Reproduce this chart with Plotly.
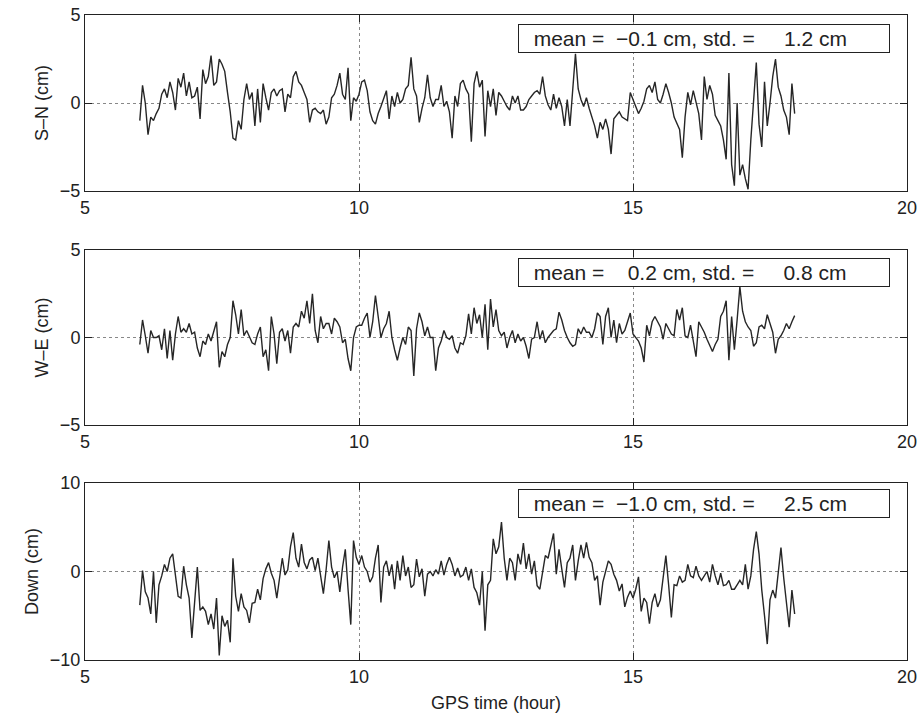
import numpy as np
import plotly.graph_objects as go

# GPS time (hour): sampled every 0.05 h from 6.00 to 17.95
time_hour = np.round(6.0 + 0.05 * np.arange(240), 2)

sn_cm = [
    -1.0, 1.0, 0.0, -1.8, -0.8, -1.0, -0.6, -0.3, 0.5, 0.8, 0.3, 1.2, 0.6, -0.4, 1.4, 0.9, 1.7, 0.4, 1.2, 0.3,
    0.4, 0.9, -0.9, 1.9, 1.1, 1.5, 2.7, 1.0, 1.2, 2.5, 2.2, 1.8, 0.6, -0.5, -2.0, -2.1, -1.0, -1.5, 0.2, 1.1,
    0.2, 0.6, -1.3, 0.8, -1.1, 1.1, 0.3, -0.4, 0.6, 0.8, 0.4, 0.7, 0.8, -0.5, 0.5, 0.3, 1.5, 1.8, 1.2, 1.0,
    0.6, 0.2, -1.1, -0.4, -0.3, -0.5, -0.6, -0.4, -1.2, -0.8, 0.3, 0.5, 1.0, 1.7, 0.5, 0.2, 2.0, -1.0, 0.3, 0.1,
    0.5, 1.2, 1.3, 0.7, -0.5, -1.0, -1.2, -0.6, -0.2, 0.3, 0.7, -0.9, 0.4, -0.2, 0.6, 0.0, 0.2, 0.8, 1.0, 2.6,
    0.8, 0.4, -1.1, -0.3, 0.3, 1.6, 0.3, -0.2, 0.2, 0.2, 1.0, -0.2, 0.1, -0.5, -2.0, 0.4, -0.2, 1.1, 1.3, 0.8,
    0.5, -2.2, 1.1, 1.8, 0.9, 1.3, -1.9, 0.7, -0.2, 0.8, -0.7, 0.6, 0.4, 0.1, -0.2, -0.4, 0.4, 0.0, 0.4, -0.4,
    -0.4, -0.2, 0.2, 0.4, 0.6, 0.7, 0.5, 1.5, 0.4, -0.1, -0.4, 0.5, -0.3, 0.3, -0.2, -1.3, 0.2, -1.3, 0.8, 2.8,
    0.8, 0.2, -0.2, 0.3, -0.3, -0.8, -1.3, -2.0, -1.1, -1.5, -0.9, -1.5, -2.9, -0.9, -0.7, -0.5, -0.8, -0.9, -1.0, 0.6,
    0.2, -0.2, -0.6, -0.3, 0.1, 0.8, 1.0, 0.6, 1.2, 0.2, 0.0, 0.5, 1.1, 0.6, 0.0, -0.8, -1.2, -1.5, -3.1, -0.8,
    0.6, -0.1, 0.7, 0.0, -0.6, -2.1, 1.5, 0.2, 1.0, 0.5, -0.7, -1.0, -1.3, -2.1, -3.2, 1.7, -3.5, -4.7, 0.0, -4.1,
    -3.5, -4.3, -4.9, -2.1, 0.2, 2.3, -1.2, -2.5, 1.2, -1.3, 0.0, 1.5, 2.5, 0.9, 0.4, -0.4, -0.8, -1.8, 1.1, -0.6,
]

we_cm = [
    -0.4, 1.0, 0.1, -0.9, 0.4, 0.0, 0.0, 0.1, -0.7, 0.5, -1.2, 0.4, -1.3, 0.2, 1.2, 0.3, 0.5, 0.3, 0.8, 0.2,
    0.3, -0.6, -1.1, -0.2, -0.4, 0.2, -0.2, 0.4, 0.9, -1.7, -0.8, -1.1, -0.4, 0.0, 2.1, 1.3, 0.2, 1.6, 0.1, 0.4,
    0.0, -0.3, -0.4, 0.2, 0.6, -1.1, -0.7, -1.9, 1.2, 0.2, -1.5, 0.3, 0.5, -0.2, 0.4, -0.9, 0.6, 0.8, 0.6, 1.5,
    1.1, 2.1, 0.8, 2.5, 0.4, -0.3, 1.2, 0.5, 0.8, 0.8, 0.2, 1.1, 0.9, 0.6, -0.3, -0.1, -1.2, -1.9, 0.0, 0.6,
    0.7, 0.7, 1.1, 1.4, 0.0, 0.9, 2.4, 1.2, 0.0, 0.5, 0.8, 1.5, 0.0, -0.7, -1.3, -0.6, 0.0, -0.4, 0.6, 0.4,
    -2.2, 0.5, 1.4, 0.9, 0.1, 0.6, 0.0, 0.0, -1.9, -0.6, -0.2, 0.4, 0.0, -0.1, 0.1, -0.6, -0.9, -0.3, -0.4, 0.1,
    1.35, 0.2, 1.7, 0.8, 1.3, 0.0, 1.9, -0.7, 2.2, 0.6, 1.6, 0.4, 0.1, 0.3, -0.6, 0.0, 0.4, -0.3, 0.2, -0.2,
    0.0, -0.5, -1.2, -0.1, 0.0, 0.9, -0.1, 0.4, -0.3, 0.0, 0.2, 0.4, 0.5, 1.45, 1.0, 0.4, 0.0, -0.3, -0.5, -0.4,
    0.5, 0.2, 0.6, 0.3, 0.3, 0.0, 0.5, 1.4, 1.2, -0.4, 1.2, 1.7, 0.0, 1.0, -0.3, 0.8, 0.2, 0.4, 0.9, 1.4,
    0.2, 0.0, -0.2, -0.6, -1.4, 0.7, 0.1, 0.9, 1.2, 0.9, 0.6, -0.1, 0.8, 0.5, 0.2, 0.1, 1.6, 1.0, 1.7, 0.1,
    0.0, 0.7, -0.3, -1.1, 0.9, 0.6, 0.3, -0.1, -0.5, -0.8, -0.4, -0.1, 1.2, 1.5, 2.1, -1.3, 1.2, -0.7, 1.0, 2.9,
    1.5, 0.9, 0.6, 0.4, -0.5, -0.3, 0.6, 0.7, 0.5, 1.3, 0.8, 0.3, -0.9, -0.1, 0.1, 0.4, 0.8, 0.5, 0.9, 1.25,
]

down_cm = [
    -3.8, 0.1, -2.3, -3.0, -4.8, 0.0, -5.8, -1.5, -0.5, 0.8, 0.0, 1.5, 2.0, -0.6, -2.8, -3.0, 0.6, -1.5, -3.0, -7.5,
    -3.0, 0.5, -4.4, -4.0, -4.5, -6.0, -4.8, -6.5, -3.0, -9.5, -5.0, -6.2, -5.5, -8.0, 1.5, -2.8, -4.5, -2.5, -4.0, -4.4,
    -5.8, -3.6, -3.5, -2.0, -3.2, -0.8, 0.3, 1.0, -0.2, -1.0, -3.0, -0.4, 1.5, -0.4, 0.2, 2.8, 4.4, 1.5, 0.5, 3.1,
    1.0, 0.3, 1.3, 1.6, 0.1, 1.5, -0.8, -2.5, 0.2, 3.5, 0.5, -0.7, 0.0, -2.3, 0.5, 2.5, -2.0, -6.0, 3.5, 1.6,
    0.8, 1.8, 0.5, 0.0, -1.2, -0.6, 1.5, 3.0, -3.5, 0.5, 1.2, -0.5, 0.8, -2.0, 1.2, -1.0, 1.8, -0.5, 0.5, -1.8,
    -1.5, 1.4, -0.6, 0.3, -2.8, -0.3, 0.0, -0.5, 0.2, -0.3, 1.2, -0.4, 0.8, 1.6, 0.8, -0.5, 0.4, -0.6, -0.4, 0.5,
    -1.0, 0.3, -1.8, -2.4, -3.8, 0.0, -6.7, -1.5, -1.0, 3.7, 2.0, 2.8, 5.6, 1.5, -1.0, 1.5, 1.0, -1.0, 2.0, 0.8,
    3.2, 0.3, 2.0, -0.3, 1.2, -1.6, -2.0, 0.0, 1.8, 1.5, 3.0, 4.3, -0.3, 2.5, 0.3, -1.8, 1.0, 1.5, 3.0, -1.0,
    1.2, 3.0, 1.5, 3.3, 1.6, 1.0, -1.0, -0.5, -3.8, -1.2, 0.0, 1.2, 0.8, -0.3, -1.0, -2.2, -1.4, -4.0, -2.9, -2.2,
    -3.0, -2.0, -0.6, -4.5, -3.0, -3.5, -5.9, -3.5, -2.5, -4.0, -3.2, -0.5, 1.8, -1.5, -5.2, -1.5, -1.6, -0.5, -1.2, -1.0,
    0.8, -0.5, -0.7, 0.6, -0.5, -1.0, -0.5, 0.0, -1.2, 0.8, -0.5, -1.5, -0.2, -1.6, -1.5, -1.0, -2.0, -2.0, -1.5, -1.0,
    -1.5, 0.8, -2.0, -0.5, 2.5, 4.5, 2.0, -2.1, -5.0, -8.2, -3.2, -2.1, -3.0, 0.1, 2.7, -0.7, -3.5, -6.3, -2.1, -4.8,
]

series = [sn_cm, we_cm, down_cm]
y_titles = ["S\u2013N (cm)", "W\u2013E (cm)", "Down (cm)"]
y_ranges = [[-5, 5], [-5, 5], [-10, 10]]
y_ticks = [[-5, 0, 5], [-5, 0, 5], [-10, 0, 10]]
x_ticks = [5, 10, 15, 20]
means = ["\u22120.1", "0.2", "\u22121.0"]
stds = ["1.2", "0.8", "2.5"]

NB = "\u00a0"
FONT = "Liberation Sans, Arial, Helvetica, sans-serif"
domains = [[0.7271, 1.0], [0.3643, 0.6357], [0.0, 0.2744]]
box_y = [0.9636, 0.6008, 0.2419]

fig = go.Figure()
layout = dict(
    width=920, height=719,
    margin=dict(l=85, r=13, t=15, b=59, autoexpand=False),
    paper_bgcolor="white", plot_bgcolor="white",
    showlegend=False,
    font=dict(family=FONT, size=18, color="#222"),
    annotations=[],
)

for i, vals in enumerate(series):
    n = "" if i == 0 else str(i + 1)
    fig.add_trace(go.Scatter(
        x=time_hour, y=vals, mode="lines",
        line=dict(color="#262626", width=1.4),
        xaxis="x" + n, yaxis="y" + n, hoverinfo="skip",
    ))
    common = dict(
        showline=True, linecolor="#222", linewidth=1, mirror="ticks",
        ticks="inside", ticklen=7, tickcolor="#222", tickwidth=1,
        showgrid=True, gridcolor="#888", griddash="dot", gridwidth=1,
        zeroline=False, tickfont=dict(size=18, color="#222"), automargin=False,
    )
    layout["xaxis" + n] = dict(
        common, range=[5, 20], tickvals=x_ticks, anchor="y" + n,
        domain=[0, 1],
        title=dict(text="GPS time (hour)" if i == 2 else "", font=dict(size=18), standoff=10),
    )
    layout["yaxis" + n] = dict(
        common, range=y_ranges[i], tickvals=y_ticks[i], anchor="x" + n,
        domain=domains[i],
        title=dict(text=y_titles[i], font=dict(size=18), standoff=6),
    )
    mean_txt = means[i] if means[i].startswith("\u2212") else NB * 2 + means[i]
    text = (NB * 2 + "mean =" + NB * 2 + mean_txt + " cm, std. =" + NB * 5 + stds[i] + " cm")
    layout["annotations"].append(dict(
        xref="paper", yref="paper", x=0.5268, y=box_y[i],
        xanchor="left", yanchor="middle", showarrow=False,
        text=text, align="left", width=364, height=21,
        bordercolor="#222", borderwidth=1, borderpad=3, bgcolor="white",
        font=dict(size=21, color="#222"),
    ))

fig.update_layout(**layout)
fig.write_html("out.html", config={"displayModeBar": False},
               post_script="document.body.style.margin='0';")
